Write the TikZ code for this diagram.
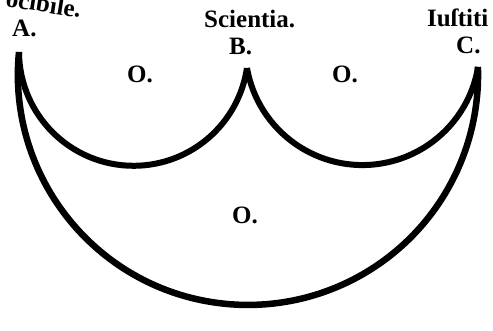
\documentclass[tikz,border=0pt]{standalone}
\usepackage{fontspec}
\setmainfont{Liberation Serif}
\begin{document}
\begin{tikzpicture}[x=1pt,y=1pt,
  lbl/.style={inner sep=0pt, anchor=base west, font=\fontsize{25}{27}\selectfont\bfseries},
  arcline/.style={line width=6pt},
  bigline/.style={line width=6.5pt}]
\useasboundingbox (0,0) rectangle (493,330);
% labels
\node[lbl, anchor=base east, rotate=-9] (t1) at (80,312) {ocibile.};
\node[lbl] (la) at (12,293) {A.};
\node[lbl] (t2) at (204,302) {Scientia.};
\node[lbl] (lb) at (229,275) {B.};
\node[lbl] (t3) at (427,303) {Iuſtiti};
\node[lbl] (lc) at (456,276) {C.};
\node[lbl] (o1) at (127,247) {O.};
\node[lbl] (o2) at (332,247) {O.};
\node[lbl] (o3) at (232,107) {O.};
% arc end points
\coordinate (A) at (19,278);
\coordinate (B) at (247,262);
\coordinate (C) at (478,263);
\draw[arcline] (A) arc[start angle=180.4, end angle=351.5, radius=114.6pt];
\draw[arcline] (B) arc[start angle=189.9, end angle=350.6, radius=117.2pt];
\draw[bigline] (A) arc[start angle=174.3, end angle=362, radius=230.1pt];
\end{tikzpicture}
\end{document}
